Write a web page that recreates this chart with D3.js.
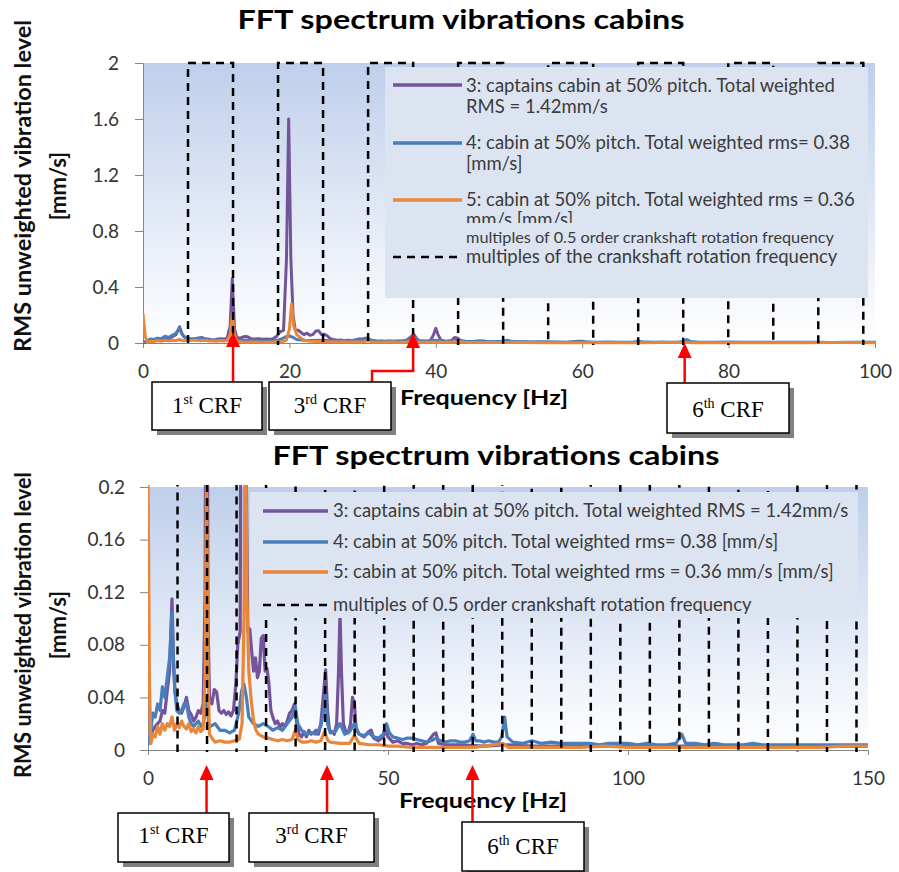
<!DOCTYPE html>
<html lang="en">
<head>
<meta charset="utf-8">
<style>
  body {margin: 0; background: #fff;}
  svg {display: block;}
  .axis text {font-family: Lato, sans-serif; font-size: 19px; fill: #333;}
  .axis path, .axis line {stroke: #868686; stroke-width: 1;}
  .legend text {font-family: Lato, sans-serif; font-size: 18.5px; fill: #3b3b3b;}
</style>
</head>
<body>
<svg id="chart" width="899" height="872"></svg>
<script src="https://d3js.org/d3.v7.min.js"></script>
<script>
// ---------- data ----------
// [frequency Hz, RMS mm/s]
var captainCabin = [
  [0,0.004],[0.5,0.01],[1,0.015],[1.5,0.018],[2,0.02],[2.5,0.022],[3,0.03],[3.5,0.028],[4,0.045],[4.5,0.06],
  [5,0.115],[5.3,0.07],[5.6,0.045],[6,0.035],[6.5,0.03],[7,0.028],[7.5,0.033],[8,0.04],[8.5,0.03],[9,0.027],
  [9.5,0.022],[10,0.025],[10.5,0.03],[11,0.028],[11.5,0.035],[11.9,0.12],[12.2,0.46],[12.5,0.1],[12.8,0.04],
  [13.3,0.035],[13.8,0.046],[14.3,0.044],[14.8,0.03],[15.3,0.028],[15.8,0.03],[16.3,0.027],[16.8,0.029],
  [17.3,0.026],[17.8,0.03],[18.3,0.05],[18.7,0.08],[19.2,0.09],[19.6,0.6],[19.9,1.6],[20.2,0.6],[20.5,0.2],
  [20.8,0.09],[21.2,0.092],[21.6,0.075],[22,0.06],[22.4,0.07],[22.8,0.055],[23.2,0.06],[23.6,0.085],[24,0.087],
  [24.4,0.06],[24.8,0.062],[25.2,0.05],[25.6,0.03],[26,0.025],[26.5,0.02],[27,0.022],[27.5,0.017],[28,0.02],
  [28.5,0.018],[29,0.022],[29.5,0.028],[30,0.03],[30.5,0.035],[31,0.02],[31.5,0.012],[32,0.01],[32.5,0.014],
  [33,0.01],[33.5,0.015],[34,0.012],[34.5,0.013],[35,0.015],[35.5,0.012],[36,0.02],[36.5,0.04],[37,0.061],
  [37.4,0.03],[37.8,0.015],[38.3,0.014],[38.8,0.012],[39.3,0.02],[39.7,0.06],[40,0.105],[40.3,0.06],[40.7,0.02],
  [41.2,0.014],[41.7,0.013],[42.2,0.02],[42.6,0.04],[43,0.035],[43.4,0.015],[44,0.012],[45,0.01],[46,0.014],
  [46.5,0.015],[47,0.009],[48,0.007],[49,0.01],[49.5,0.015],[50,0.01],[51,0.006],[52,0.007],[53,0.005],
  [54,0.005],[55,0.004],[56,0.005],[57,0.004],[58,0.005],[59.5,0.012],[60,0.013],[60.5,0.005],[62,0.004],
  [65,0.004],[70,0.003],[75,0.004],[80,0.003],[85,0.003],[90,0.003],[95,0.003],[100,0.003],[110,0.003],
  [120,0.003],[130,0.003],[140,0.003],[150,0.003]
];
var cabin4 = [
  [0,0.004],[0.5,0.012],[1,0.028],[1.5,0.025],[2,0.035],[2.5,0.03],[3,0.048],[3.5,0.04],[4,0.055],[4.5,0.07],
  [5,0.105],[5.3,0.065],[5.6,0.045],[6,0.03],[6.5,0.028],[7,0.03],[7.5,0.035],[8,0.036],[8.5,0.025],[9,0.02],
  [9.5,0.018],[10,0.02],[10.5,0.022],[11,0.018],[11.5,0.02],[12,0.03],[12.3,0.04],[12.6,0.02],[13,0.018],
  [14,0.02],[15,0.015],[16,0.015],[17,0.013],[18,0.015],[18.5,0.022],[19,0.03],[19.5,0.045],[20,0.05],
  [20.5,0.04],[21,0.025],[22,0.02],[23,0.018],[24,0.02],[25,0.018],[26,0.015],[27,0.017],[28,0.015],[29,0.02],
  [30,0.025],[30.7,0.033],[31.2,0.02],[32,0.015],[33,0.012],[34,0.013],[35,0.012],[36,0.018],[36.6,0.03],
  [37,0.042],[37.4,0.02],[38,0.013],[39,0.014],[40,0.02],[41,0.012],[42,0.014],[43,0.02],[44,0.012],[45,0.011],
  [46,0.013],[47,0.01],[48,0.009],[49,0.012],[49.7,0.02],[50.3,0.013],[51,0.01],[52,0.009],[53,0.008],
  [54,0.009],[55,0.009],[56,0.008],[57,0.007],[58,0.006],[59,0.007],[60,0.009],[61,0.007],[62,0.006],[63,0.007],
  [64,0.007],[65,0.006],[66,0.006],[67,0.007],[67.7,0.012],[68.3,0.007],[69,0.007],[70,0.006],[71,0.007],
  [72,0.006],[73,0.006],[73.7,0.01],[74.3,0.025],[74.8,0.01],[76,0.006],[78,0.005],[80,0.007],[82,0.005],
  [84,0.006],[86,0.005],[88,0.005],[90,0.005],[92,0.005],[94,0.004],[96,0.005],[98,0.005],[100,0.005],
  [102,0.004],[104,0.005],[106,0.004],[108,0.004],[110,0.005],[111.2,0.012],[112,0.005],[114,0.005],
  [116,0.004],[118,0.005],[120,0.004],[122,0.004],[124,0.004],[126,0.005],[128,0.004],[130,0.004],
  [132,0.004],[134,0.004],[136,0.004],[138,0.004],[140,0.004],[142,0.004],[144,0.004],[146,0.004],
  [148,0.004],[150,0.004]
];
var cabin5 = [
  [0,0.21],[0.3,0.05],[0.6,0.005],[1,0.012],[1.5,0.01],[2,0.018],[2.5,0.012],[3,0.02],[3.5,0.015],[4,0.02],
  [4.5,0.018],[5,0.025],[5.5,0.015],[6,0.02],[6.5,0.017],[7,0.022],[7.5,0.018],[8,0.016],[8.5,0.02],[9,0.014],
  [9.5,0.016],[10,0.013],[10.5,0.018],[11,0.014],[11.5,0.016],[11.9,0.06],[12.2,0.21],[12.5,0.06],[12.8,0.012],
  [13.5,0.008],[14,0.006],[15,0.007],[16,0.006],[17,0.006],[18,0.007],[19,0.008],[19.6,0.02],[20,0.1],
  [20.3,0.28],[20.6,0.12],[21,0.06],[21.5,0.038],[22,0.022],[22.5,0.015],[23,0.012],[24,0.01],[25,0.009],
  [26,0.008],[27,0.007],[28,0.008],[29,0.007],[30,0.008],[30.7,0.015],[31.3,0.008],[32,0.006],[33,0.006],
  [34,0.007],[35,0.006],[36,0.007],[36.8,0.014],[37.5,0.007],[38,0.006],[40,0.005],[42,0.005],[43,0.011],
  [44,0.005],[46,0.004],[48,0.004],[50,0.003],[52,0.003],[55,0.002],[58,0.002],[60,0.002],[62,0.002],
  [65,0.002],[68,0.002],[74,0.005],[75,0.002],[80,0.002],[85,0.002],[90,0.002],[95,0.003],[100,0.002],
  [105,0.002],[110,0.002],[115,0.002],[120,0.002],[125,0.002],[130,0.002],[135,0.002],[140,0.002],
  [145,0.003],[148,0.003],[150,0.003]
];
// multiples of 0.5 order crankshaft rotation frequency (Hz)
var halfOrderHz = [6.15,12.3,18.45,24.6,30.75,36.9,43.05,49.2,55.35,61.5,67.65,73.8,79.95,86.1,
  92.25,98.4,104.55,110.7,116.85,123,129.15,135.3,141.45,147.6];

var seriesColors = ["#73539a", "#4a7ebb", "#e8873a"];

var topYTicks = [0, 0.4, 0.8, 1.2, 1.6, 2];
var topXTicks = [0, 20, 40, 60, 80, 100];
var botYTicks = [0, 0.04, 0.08, 0.12, 0.16, 0.2];
var botXTicks = [0, 50, 100, 150];

var topLegend = [
  {color: 0, y: 85, lines: [["3: captains cabin at 50% pitch. Total weighted", 92], ["RMS = 1.42mm/s", 113]]},
  {color: 1, y: 143, lines: [["4: cabin at 50% pitch. Total weighted rms= 0.38", 149], ["[mm/s]", 170]]},
  {color: 2, y: 200, lines: [["5: cabin at 50% pitch. Total weighted rms = 0.36", 206], ["mm/s [mm/s]", 226, true]]},
  {color: -1, y: null, lines: [["multiples of 0.5 order crankshaft rotation frequency", 243]], small: true},
  {color: "dash", y: 257, lines: [["multiples of the crankshaft rotation frequency", 263]]}
];
var botLegend = [
  {color: 0, y: 511, lines: [["3: captains cabin at 50% pitch. Total weighted RMS = 1.42mm/s", 517]]},
  {color: 1, y: 542, lines: [["4: cabin at 50% pitch. Total weighted rms= 0.38 [mm/s]", 548]]},
  {color: 2, y: 572, lines: [["5: cabin at 50% pitch. Total weighted rms = 0.36 mm/s [mm/s]", 578]]},
  {color: "dash", y: 605, lines: [["multiples of 0.5 order crankshaft rotation frequency", 611]]}
];

var svg = d3.select("#chart");
var defs = svg.append("defs");
var grad = defs.append("linearGradient").attr("id", "plotbg")
  .attr("x1", 0).attr("y1", 0).attr("x2", 0).attr("y2", 1);
grad.append("stop").attr("offset", "0%").attr("stop-color", "#bfcfeb");
grad.append("stop").attr("offset", "100%").attr("stop-color", "#ffffff");

function drawChart(c) {
  var g = svg.append("g");
  var x = d3.scaleLinear().domain(c.xDomain).range([c.left, c.right]);
  var y = d3.scaleLinear().domain(c.yDomain).range([c.bottom, c.top]);

  g.append("rect").attr("x", c.left).attr("y", c.top)
    .attr("width", c.right - c.left).attr("height", c.bottom - c.top)
    .attr("fill", "url(#plotbg)");

  defs.append("clipPath").attr("id", c.id + "clip").append("rect")
    .attr("x", c.left).attr("y", c.top - 2)
    .attr("width", c.right - c.left + 1).attr("height", c.bottom - c.top + 4);

  // axes
  g.append("g").attr("class", "axis")
    .attr("transform", "translate(" + c.left + ",0)")
    .call(d3.axisLeft(y).tickValues(c.yTicks).tickFormat(function(d){ return String(d); })
      .tickSize(8).tickPadding(c.yPad).tickSizeOuter(0));
  g.append("g").attr("class", "axis")
    .attr("transform", "translate(0," + c.bottom + ")")
    .call(d3.axisBottom(x).tickValues(c.xTicks).tickSize(5).tickPadding(17).tickSizeOuter(0));

  var plot = g.append("g").attr("clip-path", "url(#" + c.id + "clip)");
  var line = d3.line().x(function(d){ return x(d[0]); }).y(function(d){ return y(d[1]); });

  [captainCabin, cabin4, cabin5].forEach(function(s, i) {
    plot.append("path").datum(s)
      .attr("d", line).attr("fill", "none")
      .attr("stroke", seriesColors[i]).attr("stroke-width", c.lw)
      .attr("stroke-linejoin", "round");
  });

  // dashed square wave through the crankshaft multiples
  var wave = [];
  halfOrderHz.forEach(function(f, i) {
    var hi = 2, lo = -0.3;
    if (i % 2 === 0) { wave.push([f, lo]); wave.push([f, hi]); }
    else { wave.push([f, hi]); wave.push([f, lo]); }
  });
  plot.append("path").datum(wave).attr("d", line).attr("fill", "none")
    .attr("stroke", "#000").attr("stroke-width", 2.5).attr("stroke-dasharray", "8,6");

  // legend
  var lg = g.append("g").attr("class", "legend");
  lg.append("rect").attr("x", c.leg.x0).attr("y", c.leg.y0)
    .attr("width", c.leg.x1 - c.leg.x0).attr("height", c.leg.y1 - c.leg.y0)
    .attr("fill", "#dce4f1");
  defs.append("clipPath").attr("id", c.id + "legclip").append("rect")
    .attr("x", 0).attr("y", 0).attr("width", 899).attr("height", c.leg.cut || 872);
  c.legend.forEach(function(it) {
    if (it.y !== null) {
      var ln = lg.append("line").attr("x1", c.leg.lx0).attr("x2", c.leg.lx1)
        .attr("y1", it.y).attr("y2", it.y).attr("stroke-width", it.color === "dash" ? 2.5 : 3.5);
      if (it.color === "dash") ln.attr("stroke", "#000").attr("stroke-dasharray", "8,6");
      else ln.attr("stroke", seriesColors[it.color]);
    }
    it.lines.forEach(function(t) {
      var tx = lg.append("text").attr("x", c.leg.tx).attr("y", t[1]).text(t[0]);
      if (t[2]) tx.attr("clip-path", "url(#" + c.id + "legclip)");
      if (it.small) tx.style("font-size", "16px").attr("textLength", 368).attr("lengthAdjust", "spacingAndGlyphs");
    });
  });

  // titles
  g.append("text").attr("x", c.titleX).attr("y", c.titleY).attr("text-anchor", "middle")
    .style("font-family", "Lato, sans-serif").style("font-weight", "bold").style("font-size", "26px")
    .attr("textLength", 447).attr("lengthAdjust", "spacingAndGlyphs")
    .text("FFT spectrum vibrations cabins");
  g.append("text").attr("x", c.xTitleX).attr("y", c.xTitleY).attr("text-anchor", "middle")
    .style("font-family", "Lato, sans-serif").style("font-weight", "bold").style("font-size", "20px")
    .attr("textLength", 168).attr("lengthAdjust", "spacingAndGlyphs")
    .text("Frequency [Hz]");
  var yl = g.append("g").attr("transform", "translate(0," + c.yTitleY + ") rotate(-90)")
    .style("font-family", "Lato, sans-serif").style("font-weight", "bold").style("font-size", "22px")
    .style("fill", "#111");
  yl.append("text").attr("x", 0).attr("y", 31).attr("text-anchor", "middle")
    .attr("textLength", c.yTitleLen).attr("lengthAdjust", "spacingAndGlyphs")
    .text("RMS unweighted vibration level");
  yl.append("text").attr("x", 0).attr("y", 66).attr("text-anchor", "middle").text("[mm/s]");

  // CRF annotations
  c.notes.forEach(function(n) {
    var ax = x(n.hz);
    var ag = g.append("g");
    var pts = n.elbow ? [[n.elbow, n.by0], [n.elbow, n.elbowY], [ax, n.elbowY], [ax, n.tip + 13]]
                      : [[ax, n.by0], [ax, n.tip + 13]];
    ag.append("path").attr("d", d3.line()(pts)).attr("fill", "none")
      .attr("stroke", "#ff0000").attr("stroke-width", 2.5);
    ag.append("path").attr("d", d3.line()([[ax, n.tip], [ax - 7, n.tip + 15], [ax + 7, n.tip + 15]]) + "Z")
      .attr("fill", "#ff0000");
    ag.append("rect").attr("x", n.bx0 + 5).attr("y", n.by0 + 5)
      .attr("width", n.bx1 - n.bx0).attr("height", n.by1 - n.by0).attr("fill", "#808080");
    ag.append("rect").attr("x", n.bx0).attr("y", n.by0)
      .attr("width", n.bx1 - n.bx0).attr("height", n.by1 - n.by0)
      .attr("fill", "#fff").attr("stroke", "#000").attr("stroke-width", 1.5);
    var t = ag.append("text").attr("x", (n.bx0 + n.bx1) / 2).attr("y", n.ty)
      .attr("text-anchor", "middle")
      .style("font-family", "'Liberation Serif', serif").style("font-size", "23px").style("fill", "#000");
    t.append("tspan").text(n.num);
    t.append("tspan").attr("dy", -9).style("font-size", "14px").text(n.sup);
    t.append("tspan").attr("dy", 9).text(" CRF");
  });
}

drawChart({
  id: "top", left: 143, right: 875, top: 63, bottom: 343,
  xDomain: [0, 100], yDomain: [0, 2], xTicks: topXTicks, yTicks: topYTicks, yPad: 16, lw: 3,
  leg: {x0: 385, x1: 868, y0: 67, y1: 298, lx0: 393, lx1: 462, tx: 466, cut: 223},
  legend: topLegend,
  titleX: 461, titleY: 29, xTitleX: 484, xTitleY: 405, yTitleY: 186, yTitleLen: 332,
  notes: [
    {hz: 12.3, tip: 332, num: "1", sup: "st", bx0: 152, bx1: 262, by0: 382, by1: 430, ty: 413},
    {hz: 36.9, tip: 333, num: "3", sup: "rd", bx0: 269, bx1: 391, by0: 382, by1: 430, ty: 413, elbow: 372, elbowY: 371},
    {hz: 74.0, tip: 343, num: "6", sup: "th", bx0: 667, bx1: 789, by0: 383, by1: 433, ty: 417}
  ]
});

drawChart({
  id: "bot", left: 148, right: 868, top: 487, bottom: 750,
  xDomain: [0, 150], yDomain: [0, 0.2], xTicks: botXTicks, yTicks: botYTicks, yPad: 15, lw: 3.2,
  leg: {x0: 250, x1: 858, y0: 492, y1: 618, lx0: 263, lx1: 328, tx: 333},
  legend: botLegend,
  titleX: 496, titleY: 465, xTitleX: 483, xTitleY: 808, yTitleY: 625, yTitleLen: 306,
  notes: [
    {hz: 12.2, tip: 765, num: "1", sup: "st", bx0: 118, bx1: 229, by0: 813, by1: 862, ty: 843},
    {hz: 37.3, tip: 765, num: "3", sup: "rd", bx0: 249, bx1: 374, by0: 813, by1: 862, ty: 843},
    {hz: 67.6, tip: 765, num: "6", sup: "th", bx0: 462, bx1: 584, by0: 822, by1: 871, ty: 854}
  ]
});
</script>
</body>
</html>
